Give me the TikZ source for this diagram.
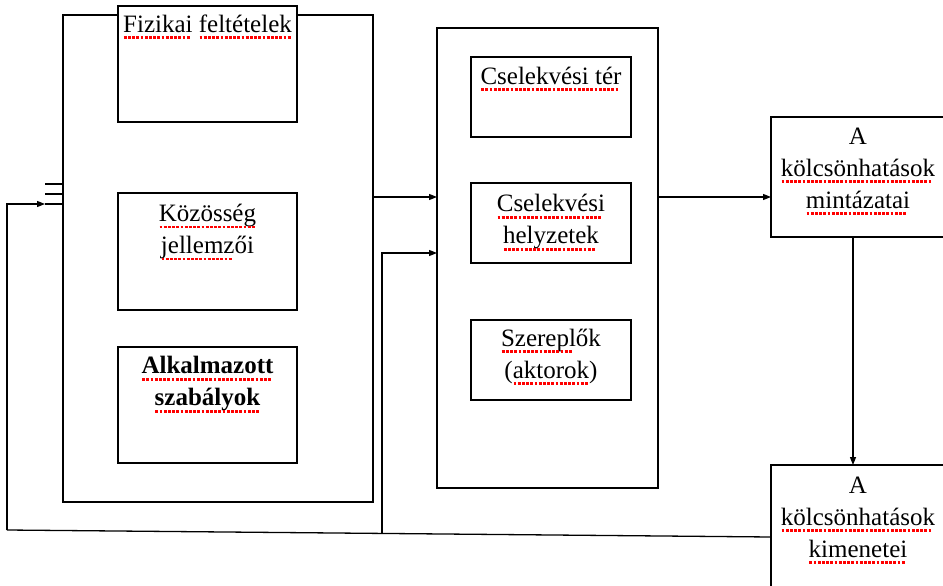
\documentclass[tikz,border=0pt]{standalone}
\usepackage{fontspec}
\setmainfont{Liberation Serif}
\usetikzlibrary{arrows.meta}
\newcommand\sq[1]{\setbox0\hbox{#1}\rlap{\copy0}{\color{red}\smash{\raisebox{-5pt}{\hbox to \wd0{\leaders\hbox to 4.2pt{\hss\vrule width 2.8pt height 0.8pt depth 1.6pt\hss}\hfill}}}}}
\tikzset{
  box/.style={draw, line width=1.3pt, fill=white, inner sep=0pt, outer sep=0pt},
  txt/.style={font=\fontsize{25}{32}\selectfont, align=center, inner sep=0pt},
  conn/.style={draw, line width=1.3pt},
  arr/.style={-{Triangle[length=8pt,width=6pt]}}
}
\begin{document}
\begin{tikzpicture}[x=1pt,y=-1pt]
\useasboundingbox (0,0) rectangle (943,586);
% left group
\node[box, minimum width=310pt, minimum height=487pt] (L) at (218,258.5) {};
\node[box, minimum width=179pt, minimum height=116pt] (F) at (207.5,64) {};
\node[box, minimum width=179pt, minimum height=117pt] (K) at (207.5,251.5) {};
\node[box, minimum width=179pt, minimum height=116pt] (A) at (207.5,405) {};
\node[txt] (Ft) at (207.5,23.5) {\sq{Fizikai} \sq{feltételek}};
\node[txt] (Kt) at (207.5,231.5) {\sq{Közösség}\\\sq{jellemz}ői};
\node[txt, font=\fontsize{25}{32}\selectfont\bfseries] (At) at (207.5,384) {\sq{Alkalmazott}\\\sq{szabályok}};
% middle group
\node[box, minimum width=221pt, minimum height=460pt] (M) at (547.5,258) {};
\node[box, minimum width=160pt, minimum height=80pt] (CT) at (551,97) {};
\node[box, minimum width=160pt, minimum height=80pt] (CH) at (551,223) {};
\node[box, minimum width=160pt, minimum height=80pt] (SZ) at (551,360) {};
\node[txt] (CTt) at (551,75.5) {\sq{Cselekvési tér}};
\node[txt] (CHt) at (551,222) {\sq{Cselekvési}\\\sq{helyzetek}};
\node[txt] (SZt) at (551,356) {\sq{Szerepl}ők\\(\sq{aktorok})};
% right boxes
\node[box, minimum width=176pt, minimum height=120pt] (R1) at (859,177) {};
\node[box, minimum width=176pt, minimum height=125pt] (R2) at (859,527.5) {};
\node[txt] (R1t) at (858,168) {A\\\sq{kölcsönhatások}\\\sq{mintázatai}};
\node[txt] (R2t) at (858,517) {A\\\sq{kölcsönhatások}\\\sq{kimenetei}};
% connectors
\coordinate (y1) at (0,197);
\coordinate (y2) at (0,253);
\coordinate (xd) at (853,0);
\coordinate (fb) at (7,530);
\coordinate (j) at (382,533.4);
\coordinate (s1) at (45,184);
\coordinate (s2) at (45,194);
\coordinate (s3) at (45,204);
\draw[conn,arr] (L.east |- y1) -- (M.west |- y1);
\draw[conn,arr] (M.east |- y1) -- (R1.west |- y1);
\draw[conn,arr] (R1.south -| xd) -- (R2.north -| xd);
\draw[conn] (R2.west |- 0,537) -- (fb);
\draw[conn,arr] (fb) |- (s3);
\draw[conn] (s1) -- (L.west |- s1);
\draw[conn] (s2) -- (L.west |- s2);
\draw[conn] (s3) -- (L.west |- s3);
\draw[conn,arr] (j) |- (M.west |- y2);
\end{tikzpicture}
\end{document}
